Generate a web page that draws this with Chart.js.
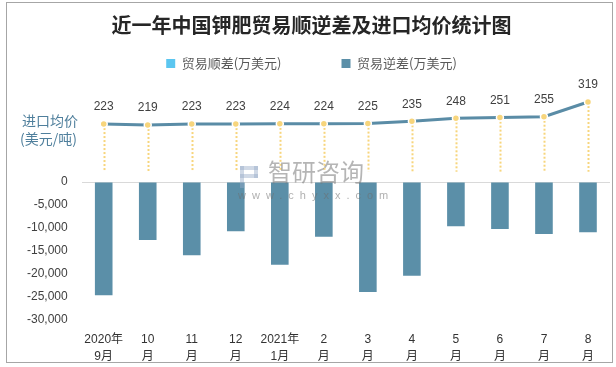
<!DOCTYPE html>
<html>
<head>
<meta charset="utf-8">
<script src="https://cdn.jsdelivr.net/npm/chart.js@4/dist/chart.umd.min.js"></script>
<style>
  html, body { margin: 0; padding: 0; background: #fff; }
</style>
</head>
<body>
<canvas id="c" width="616" height="367"></canvas>
<script>
// x labels, two lines each
const monthTop = ['2020年', '10', '11', '12', '2021年', '2', '3', '4', '5', '6', '7', '8'];
const monthBottom = ['9月', '月', '月', '月', '1月', '月', '月', '月', '月', '月', '月', '月'];

// trade balance (万美元)
const surplus = [0, 0, 0, 0, 0, 0, 0, 0, 0, 0, 0, 0];
const deficit = [-24600, -12600, -15900, -10700, -18000, -11900, -23900, -20400, -9600, -10200, -11300, -10900];

// import average price (美元/吨)
const price = [223, 219, 223, 223, 224, 224, 225, 235, 248, 251, 255, 319];

const yTicks = [0, -5000, -10000, -15000, -20000, -25000, -30000];

const labels = monthTop.map((t, i) => [t, monthBottom[i]]);

Chart.defaults.font.family = '"Liberation Sans", "Noto Sans CJK SC", sans-serif';

// dotted drop lines from each price point
const dropLines = {
  id: 'dropLines',
  beforeDatasetsDraw(chart) {
    const meta = chart.getDatasetMeta(2);
    const y2 = chart.scales.y2;
    const ctx = chart.ctx;
    const bottom = y2.getPixelForValue(15);
    ctx.save();
    ctx.strokeStyle = '#f7d57c';
    ctx.lineWidth = 2;
    ctx.setLineDash([2, 2]);
    meta.data.forEach(pt => {
      ctx.beginPath();
      ctx.moveTo(Math.round(pt.x) + 0.5, pt.y);
      ctx.lineTo(Math.round(pt.x) + 0.5, bottom);
      ctx.stroke();
    });
    ctx.restore();
  }
};

// value labels, watermark, axis note and frame
const extras = {
  id: 'extras',
  afterDatasetsDraw(chart) {
    const ctx = chart.ctx;
    const meta = chart.getDatasetMeta(2);
    ctx.save();
    ctx.font = '12px "Liberation Sans"';
    ctx.fillStyle = '#404040';
    ctx.textAlign = 'center';
    ctx.textBaseline = 'middle';
    meta.data.forEach((pt, i) => ctx.fillText(price[i], pt.x, pt.y - 17));

    // watermark
    ctx.fillStyle = 'rgba(120,120,120,0.55)';
    ctx.font = '24px "Noto Sans CJK SC"';
    ctx.textAlign = 'left';
    ctx.fillText('智研咨询', 268, 172);
    ctx.font = '11px "Liberation Sans"';
    ctx.fillStyle = 'rgba(110,110,110,0.55)';
    ctx.letterSpacing = '6px';
    ctx.fillText('www.chyxx.com', 238, 196);
    ctx.letterSpacing = '0px';
    ctx.fillStyle = 'rgba(150,170,200,0.45)';
    ctx.fillRect(240, 166, 18, 4);
    ctx.fillRect(254, 166, 4, 12);
    ctx.fillRect(240, 174, 18, 4);
    ctx.fillRect(240, 166, 4, 22);

    // left note for the price line
    ctx.fillStyle = '#4f7f9c';
    ctx.font = '14px "Noto Sans CJK SC"';
    ctx.fillText('进口均价', 22, 121);
    ctx.fillText('(美元/吨)', 20, 139);

    // outer frame
    ctx.strokeStyle = '#a6a6a6';
    ctx.lineWidth = 1;
    ctx.strokeRect(6.5, 2.5, 606, 360);
    ctx.restore();
  }
};

new Chart(document.getElementById('c'), {
  data: {
    labels: labels,
    datasets: [
      {
        type: 'bar',
        label: '贸易顺差(万美元)',
        data: surplus,
        backgroundColor: '#5bc6f0',
        grouped: false,
        barPercentage: 0.4,
        categoryPercentage: 1
      },
      {
        type: 'bar',
        label: '贸易逆差(万美元)',
        data: deficit,
        backgroundColor: '#5b8fa8',
        grouped: false,
        barPercentage: 0.4,
        categoryPercentage: 1
      },
      {
        type: 'line',
        label: '进口均价(美元/吨)',
        data: price,
        yAxisID: 'y2',
        order: -1,
        borderColor: '#5a8ca6',
        borderWidth: 3,
        pointRadius: 3.5,
        pointBackgroundColor: '#f7d57c',
        pointBorderColor: '#ffffff',
        pointBorderWidth: 1.5,
        tension: 0
      }
    ]
  },
  options: {
    responsive: false,
    animation: false,
    layout: { padding: { left: 13, right: 6, top: 0, bottom: 0 } },
    plugins: {
      tooltip: { enabled: false },
      title: {
        display: true,
        text: '近一年中国钾肥贸易顺逆差及进口均价统计图',
        color: '#262626',
        font: { family: '"Noto Sans CJK SC"', size: 20, weight: 'bold' },
        padding: { top: 13, bottom: -40 }
      },
      legend: {
        labels: {
          boxWidth: 9,
          boxHeight: 9,
          padding: 60,
          color: '#595959',
          font: { size: 13, family: '"Noto Sans CJK SC"' },
          filter: item => item.datasetIndex < 2
        }
      }
    },
    scales: {
      x: {
        afterFit: axis => { axis.height = 46; },
        grid: { display: false, drawTicks: false },
        border: { display: false },
        ticks: {
          color: '#333333',
          font: { size: 12, lineHeight: 1.45 },
          padding: 13,
          maxRotation: 0,
          autoSkip: false
        }
      },
      y: {
        min: -30217,
        max: 21522,
        afterBuildTicks: axis => { axis.ticks = yTicks.map(v => ({ value: v })); },
        grid: {
          drawTicks: false,
          color: ctx => (ctx.tick && ctx.tick.value === 0 ? '#d9d9d9' : 'rgba(0,0,0,0)')
        },
        border: { display: false },
        ticks: {
          color: '#404040',
          font: { size: 12 },
          padding: 14,
          callback: v => v.toLocaleString('en-US')
        }
      },
      y2: {
        display: false,
        position: 'left',
        min: -636,
        max: 402
      }
    }
  },
  plugins: [dropLines, extras]
});
</script>
</body>
</html>
